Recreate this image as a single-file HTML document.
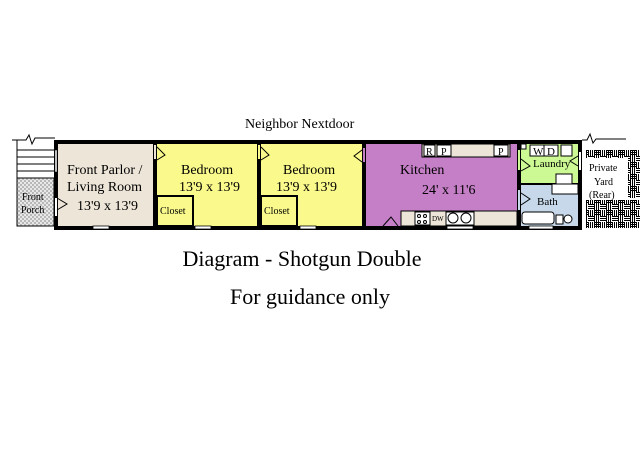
<!DOCTYPE html>
<html><head><meta charset="utf-8"><style>
html,body{margin:0;padding:0;background:#fff}
svg{display:block}
text{font-family:"Liberation Serif",serif;fill:#000}
</style></head><body>
<svg width="640" height="475" viewBox="0 0 640 475" xmlns="http://www.w3.org/2000/svg">
<defs>
<pattern id="hatch" width="4" height="4" patternUnits="userSpaceOnUse">
<rect width="4" height="4" fill="#e8e8e8"/><rect width="2" height="2" fill="#b8b8b8"/><rect x="2" y="2" width="2" height="2" fill="#b8b8b8"/>
</pattern>
<pattern id="weave" width="12" height="12" patternUnits="userSpaceOnUse">
<rect width="12" height="12" fill="#fff"/>
<path d="M0 0.5h6M0 2.5h6M0 4.5h6M6.5 6v6M8.5 6v6M10.5 6v6M0.5 6v6M2.5 6v6M4.5 6v6M6 6.5h6M6 8.5h6M6 10.5h6M6.5 0v6M8.5 0v6M10.5 0v6" stroke="#000" stroke-width="1"/>
</pattern>
</defs>
<text x="245" y="128" font-size="14">Neighbor Nextdoor</text>
<path d="M12 140h14l3-5 3 9 3-6h20" stroke="#000" fill="none"/>
<path d="M582 140h5l3-6 3 9 3-4h30" stroke="#000" fill="none"/>
<rect x="17" y="178" width="37" height="48" fill="url(#hatch)" stroke="#000"/>
<path d="M17 140v38M17 150h37M17 157h37M17 164h37M17 171h37" stroke="#000" fill="none"/>
<text x="22" y="200" font-size="10">Front</text>
<text x="21" y="213" font-size="10">Porch</text>
<rect x="57" y="144" width="96" height="82" fill="#ede5d8"/>
<rect x="157" y="144" width="100" height="82" fill="#fafa8c"/>
<rect x="261" y="144" width="101" height="82" fill="#fafa8c"/>
<rect x="366" y="144" width="151" height="82" fill="#c57fc6"/>
<rect x="521" y="144" width="57" height="40" fill="#ccf994"/>
<rect x="521" y="184" width="57" height="42" fill="#c6d8ea"/>
<rect x="586" y="150" width="42" height="8" fill="url(#weave)"/>
<rect x="628" y="150" width="12" height="48" fill="url(#weave)"/>
<rect x="586" y="200" width="54" height="28" fill="url(#weave)"/>
<text x="589" y="171" font-size="10">Private</text>
<text x="594" y="185" font-size="10">Yard</text>
<text x="589" y="198" font-size="10">(Rear)</text>
<rect x="54" y="140" width="528" height="4" fill="#000"/>
<rect x="54" y="226" width="528" height="4" fill="#000"/>
<rect x="54" y="140" width="4" height="90" fill="#000"/>
<rect x="153" y="140" width="4" height="90" fill="#000"/>
<rect x="257" y="140" width="4" height="90" fill="#000"/>
<rect x="362" y="140" width="4" height="90" fill="#000"/>
<rect x="517" y="140" width="4" height="90" fill="#000"/>
<rect x="578" y="140" width="4" height="90" fill="#000"/>
<rect x="521" y="183" width="57" height="2" fill="#000"/>
<rect x="154" y="145" width="2" height="14" fill="#ede5d8"/>
<rect x="258" y="145" width="2" height="14" fill="#fafa8c"/>
<rect x="363" y="148" width="2" height="14" fill="#c57fc6"/>
<rect x="518" y="150" width="2" height="20" fill="#ccf994"/>
<rect x="518" y="190" width="2" height="20" fill="#c6d8ea"/>
<rect x="579" y="152" width="2" height="18" fill="#fff"/>
<rect x="55" y="198" width="2" height="18" fill="#fff"/>
<rect x="55" y="150" width="2" height="22" fill="#fff" stroke="#000" stroke-width="0.5"/>
<g fill="none" stroke="#000" stroke-width="1">
<path d="M157 147l8 8-8 5"/><path d="M261 147l8 8-8 5"/><path d="M362 150l-8 6 8 6"/>
<path d="M521 159l9 7-9 5"/><path d="M521 193l9 6-9 6"/><path d="M578 156l-8 5 8 5"/>
<path d="M57 198l10 6-10 6"/><path d="M383 226l8-9 7 9"/>
</g>
<g fill="#fff" stroke="#000" stroke-width="0.8">
<rect x="93" y="226" width="16" height="3"/><rect x="195" y="226" width="16" height="3"/><rect x="300" y="226" width="16" height="3"/>
<rect x="447" y="226" width="26" height="3"/><rect x="529" y="226" width="24" height="3"/>
</g>
<rect x="157" y="196" width="36" height="30" fill="#fafa8c" stroke="#000" stroke-width="2"/>
<rect x="261" y="196" width="36" height="30" fill="#fafa8c" stroke="#000" stroke-width="2"/>
<text x="160" y="214" font-size="10">Closet</text>
<text x="264" y="214" font-size="10">Closet</text>
<g stroke="#000" stroke-width="1">
<rect x="422" y="144" width="88" height="13" fill="#ede5d8"/>
<rect x="424" y="145" width="11" height="11" fill="#fff"/><rect x="437" y="145" width="14" height="11" fill="#fff"/><rect x="494" y="145" width="14" height="11" fill="#fff"/>
<rect x="401" y="211" width="116" height="15" fill="#ede5d8"/>
<rect x="415" y="212" width="15" height="13" fill="#fff"/>
<rect x="446" y="212" width="28" height="13" fill="#fff"/>
<circle cx="453" cy="218" r="5" fill="#fff"/><circle cx="466" cy="218" r="5" fill="#fff"/>
<circle cx="419" cy="216" r="1.5" fill="none"/><circle cx="425" cy="216" r="1.5" fill="none"/><circle cx="419" cy="222" r="1.5" fill="none"/><circle cx="425" cy="222" r="1.5" fill="none"/>
<rect x="521" y="144" width="5" height="5" fill="#fff"/>
<rect x="530" y="145" width="14" height="11" fill="#fff"/><rect x="544" y="145" width="14" height="11" fill="#fff"/><rect x="561" y="145" width="11" height="11" fill="#fff"/>
<rect x="556" y="174" width="16" height="10" fill="#fff"/><rect x="552" y="184" width="26" height="10" fill="#fff"/>
<rect x="522" y="212" width="32" height="12" rx="3" fill="#fff"/>
<rect x="556" y="215" width="7" height="9" fill="#fff"/><circle cx="568" cy="219" r="4" fill="#fff"/>
</g>
<text x="426" y="155" font-size="10">R</text><text x="441" y="155" font-size="10">P</text><text x="498" y="155" font-size="10">P</text>
<text x="432" y="221" font-size="7" fill="#555">DW</text>
<text x="533" y="155" font-size="11">W</text><text x="547" y="155" font-size="11">D</text>
<text x="533" y="167" font-size="11">Laundry</text>
<text x="537" y="205" font-size="11">Bath</text>
<text x="67" y="174" font-size="14">Front Parlor /</text>
<text x="67" y="191" font-size="14">Living Room</text>
<text x="77" y="210" font-size="14">13'9 x 13'9</text>
<text x="181" y="174" font-size="14">Bedroom</text>
<text x="179" y="191" font-size="14">13'9 x 13'9</text>
<text x="283" y="174" font-size="14">Bedroom</text>
<text x="276" y="191" font-size="14">13'9 x 13'9</text>
<text x="400" y="174" font-size="14">Kitchen</text>
<text x="422" y="194" font-size="14">24' x 11'6</text>
<text x="302" y="266" font-size="22" text-anchor="middle">Diagram - Shotgun Double</text>
<text x="310" y="304" font-size="22" text-anchor="middle">For guidance only</text>
</svg>
</body></html>
